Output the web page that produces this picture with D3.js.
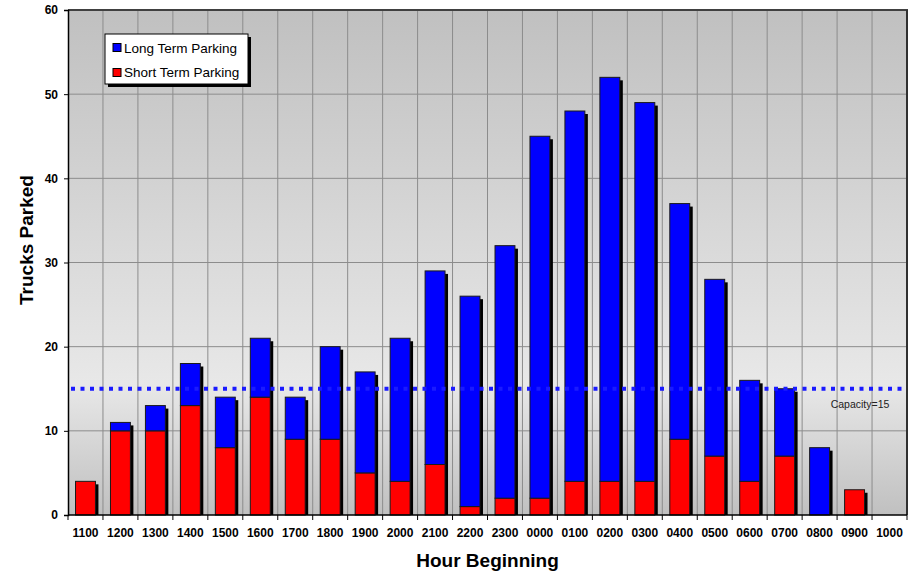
<!DOCTYPE html>
<html>
<head>
<meta charset="utf-8">
<script src="https://cdn.jsdelivr.net/npm/d3@7/dist/d3.min.js"></script>
<style>
  html, body { margin: 0; padding: 0; background: #fff; }
  svg { display: block; font-family: "Liberation Sans", Arial, sans-serif; }
</style>
</head>
<body>
<svg id="chart" width="918" height="576"></svg>
<script>
// Hourly truck counts by parking type
const hours = ["1100","1200","1300","1400","1500","1600","1700","1800","1900","2000","2100","2200",
               "2300","0000","0100","0200","0300","0400","0500","0600","0700","0800","0900","1000"];
const shortTerm = [4,10,10,13,8,14,9,9,5,4,6,1,2,2,4,4,4,9,7,4,7,0,3,0];
const longTerm  = [0,1,3,5,6,7,5,11,12,17,23,25,30,43,44,48,45,28,21,12,8,8,0,0];
const yTicks = [0,10,20,30,40,50,60];
const capacity = 15;

const svg = d3.select("#chart");
const m = { left: 68, right: 11, top: 10, bottom: 61 };
const W = 918, H = 576;
const pw = W - m.left - m.right, ph = H - m.top - m.bottom;

const x = d3.scaleBand().domain(hours).range([m.left, m.left + pw]).paddingInner(0.43).paddingOuter(0.215);
const xGrid = d3.scaleBand().domain(hours).range([m.left, m.left + pw]);
const y = d3.scaleLinear().domain([0, 60]).range([m.top + ph, m.top]);

// background gradient of the plot area
const defs = svg.append("defs");
const grad = defs.append("linearGradient").attr("id", "bg").attr("x1", 0).attr("y1", 0).attr("x2", 0).attr("y2", 1);
grad.append("stop").attr("offset", "0%").attr("stop-color", "#c0c0c0");
grad.append("stop").attr("offset", "74%").attr("stop-color", "#e8e8e8");
grad.append("stop").attr("offset", "100%").attr("stop-color", "#c0c0c0");

svg.append("rect").attr("x", m.left).attr("y", m.top).attr("width", pw).attr("height", ph).attr("fill", "url(#bg)");

// gridlines
svg.append("g").selectAll("line").data(yTicks.filter(d => d > 0 && d < 60)).join("line")
  .attr("x1", m.left).attr("x2", m.left + pw)
  .attr("y1", d => y(d)).attr("y2", d => y(d))
  .attr("stroke", "#8c8c8c").attr("stroke-width", 1);
svg.append("g").selectAll("line").data(hours.slice(1)).join("line")
  .attr("x1", d => xGrid(d)).attr("x2", d => xGrid(d))
  .attr("y1", m.top).attr("y2", m.top + ph)
  .attr("stroke", "#8c8c8c").attr("stroke-width", 1);

// stacked bars
const rows = hours.map((h, i) => ({ h, s: shortTerm[i], l: longTerm[i], t: shortTerm[i] + longTerm[i] }));
const bars = svg.append("g");
const bw = x.bandwidth();
// drop shadows
bars.selectAll("rect.shadow").data(rows.filter(d => d.t > 0)).join("rect")
  .attr("class", "shadow")
  .attr("x", d => x(d.h) + 3).attr("y", d => y(d.t) + 3)
  .attr("width", bw).attr("height", d => y(0) - y(d.t) - 3)
  .attr("fill", "#000");
bars.selectAll("rect.short").data(rows.filter(d => d.s > 0)).join("rect")
  .attr("class", "short")
  .attr("x", d => x(d.h)).attr("y", d => y(d.s))
  .attr("width", bw).attr("height", d => y(0) - y(d.s))
  .attr("fill", "#ff0000").attr("stroke", "#1a1a1a").attr("stroke-width", 1);
bars.selectAll("rect.long").data(rows.filter(d => d.l > 0)).join("rect")
  .attr("class", "long")
  .attr("x", d => x(d.h)).attr("y", d => y(d.t))
  .attr("width", bw).attr("height", d => y(d.s) - y(d.t))
  .attr("fill", "#0000ff").attr("stroke", "#1a1a1a").attr("stroke-width", 1);

// capacity line
svg.append("line")
  .attr("x1", m.left + 3).attr("x2", m.left + pw)
  .attr("y1", y(capacity)).attr("y2", y(capacity))
  .attr("stroke", "#1a1aff").attr("stroke-width", 4).attr("stroke-dasharray", "4 5.5");
svg.append("text").attr("x", 860).attr("y", y(capacity) + 19)
  .attr("text-anchor", "middle").attr("font-size", 10.5).attr("fill", "#222").text("Capacity=" + capacity);

// plot frame
svg.append("line").attr("x1", m.left).attr("x2", m.left + pw + 1).attr("y1", m.top).attr("y2", m.top).attr("stroke", "#404040").attr("stroke-width", 2);
svg.append("line").attr("x1", m.left + pw).attr("x2", m.left + pw).attr("y1", m.top).attr("y2", m.top + ph).attr("stroke", "#303030").attr("stroke-width", 2);

// axes
const yAxis = d3.axisLeft(y).tickValues(yTicks).tickSize(4).tickPadding(6);
const gy = svg.append("g").attr("transform", `translate(${m.left},0)`).call(yAxis);
gy.select(".domain").attr("stroke", "#000").attr("stroke-width", 1.5);
gy.selectAll(".tick line").attr("stroke", "#000");
gy.selectAll("text").attr("font-size", 12).attr("font-weight", "bold").attr("fill", "#000")
  .attr("font-family", "'Liberation Sans', Arial, sans-serif");

const gx = svg.append("g").attr("transform", `translate(0,${m.top + ph})`);
gx.append("line").attr("x1", m.left).attr("x2", m.left + pw).attr("stroke", "#000").attr("stroke-width", 1.5);
gx.selectAll("line.tk").data(hours.concat(["end"])).join("line").attr("class", "tk")
  .attr("x1", (d, i) => m.left + i * xGrid.step()).attr("x2", (d, i) => m.left + i * xGrid.step())
  .attr("y1", 0).attr("y2", 5).attr("stroke", "#000");
gx.selectAll("text").data(hours).join("text")
  .attr("x", d => xGrid(d) + xGrid.bandwidth() / 2).attr("y", 22)
  .attr("text-anchor", "middle").attr("font-size", 12).attr("font-weight", "bold").text(d => d);

// axis titles
svg.append("text").attr("transform", "translate(33,240) rotate(-90)")
  .attr("text-anchor", "middle").attr("font-size", 19).attr("font-weight", "bold").text("Trucks Parked");
svg.append("text").attr("x", m.left + pw / 2).attr("y", 567)
  .attr("text-anchor", "middle").attr("font-size", 19).attr("font-weight", "bold").text("Hour Beginning");

// legend
const lg = svg.append("g").attr("transform", "translate(105,34)");
lg.append("rect").attr("x", 3).attr("y", 3).attr("width", 143).attr("height", 50).attr("fill", "#000");
lg.append("rect").attr("x", 0).attr("y", 0).attr("width", 143).attr("height", 50).attr("fill", "#fff").attr("stroke", "#000").attr("stroke-width", 1);
const items = [{ name: "Long Term Parking", c: "#0000ff" }, { name: "Short Term Parking", c: "#ff0000" }];
items.forEach((it, i) => {
  lg.append("rect").attr("x", 8).attr("y", 9.5 + i * 25).attr("width", 8).attr("height", 8)
    .attr("fill", it.c).attr("stroke", "#000").attr("stroke-width", 1);
  lg.append("text").attr("x", 19).attr("y", 19 + i * 24).attr("font-size", 13.5).attr("fill", "#000").text(it.name);
});
</script>
</body>
</html>
